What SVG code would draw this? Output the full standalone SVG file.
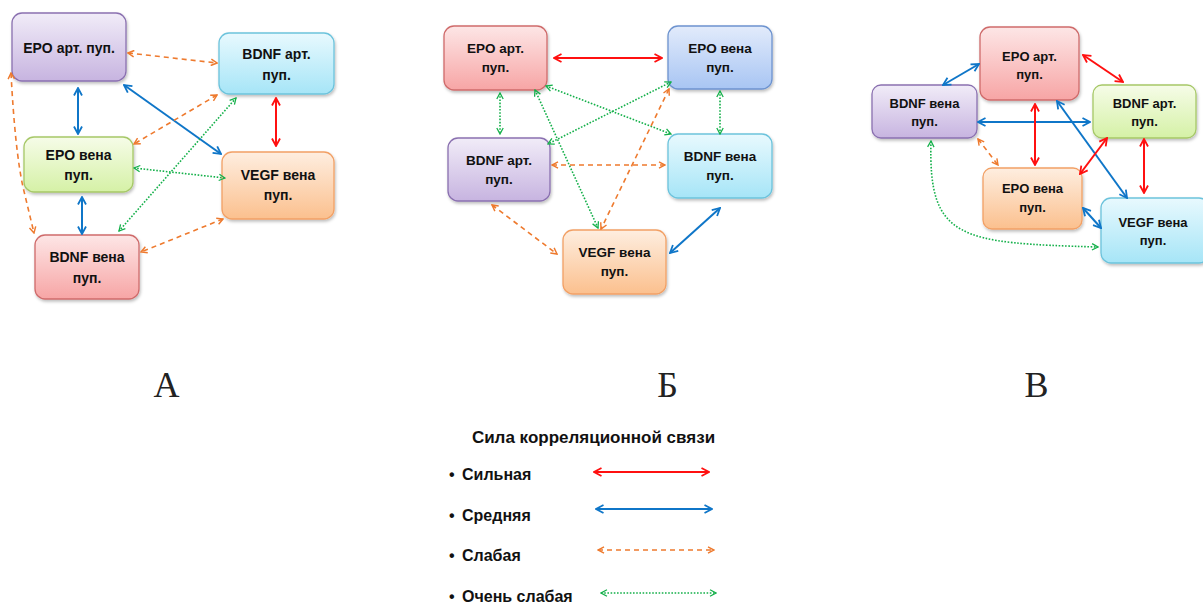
<svg xmlns="http://www.w3.org/2000/svg" width="1203" height="605" viewBox="0 0 1203 605">
<defs>
<style>
.t{font-family:"Liberation Sans",Arial,sans-serif;font-weight:bold;fill:#111;text-anchor:middle}
.a{font-size:14px}.b{font-size:13.5px}.c{font-size:13px}
.lg{font-family:"Liberation Sans",Arial,sans-serif;font-weight:bold;font-size:16px;fill:#111}
.ttl{font-size:17px}
.pl{font-family:"Liberation Serif","Times New Roman",serif;font-size:36px;fill:#222;text-anchor:middle}
.s{fill:none;stroke-width:2}
.red{stroke:#ff1010;marker-start:url(#mR);marker-end:url(#mR)}
.blue{stroke:#0f76c8;marker-start:url(#mB);marker-end:url(#mB)}
.or{stroke:#ee7a2e;stroke-width:1.6;stroke-dasharray:5 4;marker-start:url(#mO);marker-end:url(#mO)}
.gr{stroke:#14b04a;stroke-width:1.6;stroke-dasharray:1.6 1.6;marker-start:url(#mG);marker-end:url(#mG)}
.pu{fill:url(#gPu);stroke:#8a70b0}
.cy{fill:url(#gCy);stroke:#6cc3dc}
.gn{fill:url(#gGn);stroke:#a6c867}
.og{fill:url(#gOg);stroke:#f2a065}
.rd{fill:url(#gRd);stroke:#cf6b6b}
.bl{fill:url(#gBl);stroke:#6d93cf}
.bx{stroke-width:1.3;filter:url(#sh)}
</style>
<filter id="sh" x="-10%" y="-10%" width="125%" height="130%"><feDropShadow dx="1" dy="2" stdDeviation="1.5" flood-color="#000" flood-opacity="0.25"/></filter>
<linearGradient id="gPu" x1="0" y1="0" x2="0" y2="1"><stop offset="0" stop-color="#f1ecf8"/><stop offset="1" stop-color="#c7b4e0"/></linearGradient>
<linearGradient id="gCy" x1="0" y1="0" x2="0" y2="1"><stop offset="0" stop-color="#e8f9fe"/><stop offset="1" stop-color="#a6e5f7"/></linearGradient>
<linearGradient id="gGn" x1="0" y1="0" x2="0" y2="1"><stop offset="0" stop-color="#f6fce8"/><stop offset="1" stop-color="#d5f1a6"/></linearGradient>
<linearGradient id="gOg" x1="0" y1="0" x2="0" y2="1"><stop offset="0" stop-color="#feeee0"/><stop offset="1" stop-color="#fbc08e"/></linearGradient>
<linearGradient id="gRd" x1="0" y1="0" x2="0" y2="1"><stop offset="0" stop-color="#fde6e6"/><stop offset="1" stop-color="#f7a5a5"/></linearGradient>
<linearGradient id="gBl" x1="0" y1="0" x2="0" y2="1"><stop offset="0" stop-color="#e2ebfb"/><stop offset="1" stop-color="#a8c5f3"/></linearGradient>
<marker id="mR" viewBox="0 0 10 10" refX="9" refY="5" markerWidth="10" markerHeight="10" markerUnits="userSpaceOnUse" orient="auto-start-reverse"><path d="M1.5,1 L9,5 L1.5,9" fill="none" stroke="#ff1010" stroke-width="1.8"/></marker>
<marker id="mB" viewBox="0 0 10 10" refX="9" refY="5" markerWidth="10" markerHeight="10" markerUnits="userSpaceOnUse" orient="auto-start-reverse"><path d="M1.5,1 L9,5 L1.5,9" fill="none" stroke="#0f76c8" stroke-width="1.8"/></marker>
<marker id="mO" viewBox="0 0 10 10" refX="9" refY="5" markerWidth="8" markerHeight="8" markerUnits="userSpaceOnUse" orient="auto-start-reverse"><path d="M1.5,1 L9,5 L1.5,9" fill="none" stroke="#ee7a2e" stroke-width="1.8"/></marker>
<marker id="mG" viewBox="0 0 10 10" refX="9" refY="5" markerWidth="8" markerHeight="8" markerUnits="userSpaceOnUse" orient="auto-start-reverse"><path d="M1.5,1 L9,5 L1.5,9" fill="none" stroke="#14b04a" stroke-width="1.6"/></marker>
</defs>
<rect width="1203" height="605" fill="#fff"/>

<!-- Panel A nodes -->
<g id="A-epo-art"><rect class="bx pu" x="12" y="13" width="114" height="68" rx="10"/><text class="t a" x="69" y="53">EPO арт. пуп.</text></g>
<g id="A-bdnf-art"><rect class="bx cy" x="219" y="33" width="115" height="61" rx="10"/><text class="t a" x="276.5" y="59">BDNF арт.</text><text class="t a" x="276.5" y="80">пуп.</text></g>
<g id="A-epo-vena"><rect class="bx gn" x="24" y="137" width="109" height="55" rx="10"/><text class="t a" x="78.5" y="160">EPO вена</text><text class="t a" x="78.5" y="180">пуп.</text></g>
<g id="A-vegf-vena"><rect class="bx og" x="222" y="152" width="112" height="67" rx="10"/><text class="t a" x="278" y="180">VEGF вена</text><text class="t a" x="278" y="200">пуп.</text></g>
<g id="A-bdnf-vena"><rect class="bx rd" x="35" y="235" width="104" height="64" rx="10"/><text class="t a" x="87" y="262">BDNF вена</text><text class="t a" x="87" y="283">пуп.</text></g>

<!-- Panel Б nodes -->
<g id="B-epo-art"><rect class="bx rd" x="444" y="26" width="103" height="64" rx="10"/><text class="t b" x="495.5" y="53">EPO арт.</text><text class="t b" x="495.5" y="72">пуп.</text></g>
<g id="B-epo-vena"><rect class="bx bl" x="668" y="26" width="104" height="63" rx="10"/><text class="t b" x="720" y="53">EPO вена</text><text class="t b" x="720" y="72">пуп.</text></g>
<g id="B-bdnf-art"><rect class="bx pu" x="448" y="138" width="102" height="63" rx="10"/><text class="t b" x="499" y="165">BDNF арт.</text><text class="t b" x="499" y="184">пуп.</text></g>
<g id="B-bdnf-vena"><rect class="bx cy" x="668" y="134" width="104" height="64" rx="10"/><text class="t b" x="720" y="161">BDNF вена</text><text class="t b" x="720" y="180">пуп.</text></g>
<g id="B-vegf-vena"><rect class="bx og" x="563" y="230" width="103" height="64" rx="10"/><text class="t b" x="614.5" y="257">VEGF вена</text><text class="t b" x="614.5" y="276">пуп.</text></g>

<!-- Panel В nodes -->
<g id="C-epo-art"><rect class="bx rd" x="980" y="27" width="99" height="73" rx="10"/><text class="t c" x="1029.5" y="61">EPO арт.</text><text class="t c" x="1029.5" y="79">пуп.</text></g>
<g id="C-bdnf-vena"><rect class="bx pu" x="872" y="85" width="105" height="53" rx="9"/><text class="t c" x="924.5" y="108">BDNF вена</text><text class="t c" x="924.5" y="126">пуп.</text></g>
<g id="C-bdnf-art"><rect class="bx gn" x="1093" y="85" width="103" height="53" rx="9"/><text class="t c" x="1144.5" y="108">BDNF арт.</text><text class="t c" x="1144.5" y="126">пуп.</text></g>
<g id="C-epo-vena"><rect class="bx og" x="983" y="168" width="99" height="61" rx="9"/><text class="t c" x="1032.5" y="193">EPO вена</text><text class="t c" x="1032.5" y="212">пуп.</text></g>
<g id="C-vegf-vena"><rect class="bx cy" x="1101" y="198" width="108" height="65" rx="10"/><text class="t c" x="1153" y="227">VEGF вена</text><text class="t c" x="1153" y="245">пуп.</text></g>

<!-- Connectors -->
<g id="connectors" class="s">
<!-- A -->
<line class="s or" x1="128" y1="53" x2="217" y2="63"/>
<line class="s blue" x1="78" y1="88" x2="78" y2="134"/>
<line class="s blue" x1="124" y1="85" x2="221" y2="154"/>
<line class="s red" x1="276" y1="98" x2="276" y2="146"/>
<line class="s or" x1="217" y1="95" x2="134" y2="144"/>
<line class="s gr" x1="236" y1="98" x2="119" y2="231"/>
<line class="s gr" x1="134" y1="168" x2="225" y2="178"/>
<line class="s blue" x1="82" y1="197" x2="82" y2="234"/>
<line class="s or" x1="223" y1="219" x2="141" y2="252"/>
<path class="s or" d="M11,73 Q15,150 23,187 L34,233"/>
<!-- Б -->
<line class="s red" x1="554" y1="58" x2="662" y2="58"/>
<line class="s gr" x1="500" y1="93" x2="500" y2="134"/>
<line class="s gr" x1="720" y1="91" x2="720" y2="134"/>
<line class="s gr" x1="546" y1="86" x2="671" y2="134"/>
<line class="s gr" x1="671" y1="82" x2="548" y2="144"/>
<line class="s gr" x1="535" y1="90" x2="598" y2="228"/>
<line class="s or" x1="669" y1="89" x2="601" y2="229"/>
<line class="s or" x1="552" y1="165" x2="665" y2="165"/>
<line class="s or" x1="492" y1="205" x2="557" y2="254"/>
<line class="s blue" x1="720" y1="208" x2="670" y2="253"/>
<!-- В -->
<line class="s blue" x1="943" y1="85" x2="979" y2="64"/>
<line class="s red" x1="1083" y1="55" x2="1123" y2="82"/>
<line class="s blue" x1="978" y1="122" x2="1090" y2="122"/>
<line class="s red" x1="1035" y1="104" x2="1035" y2="165"/>
<line class="s blue" x1="1057" y1="101" x2="1127" y2="198"/>
<line class="s red" x1="1107" y1="138" x2="1080" y2="174"/>
<line class="s red" x1="1144" y1="139" x2="1144" y2="193"/>
<line class="s or" x1="978" y1="139" x2="998" y2="165"/>
<line class="s blue" x1="1083" y1="208" x2="1101" y2="228"/>
<path class="s gr" d="M931,141 C928,240 960,243 1098,247"/>
<!-- legend -->
<line class="s red" x1="594" y1="472" x2="709" y2="472"/>
<line class="s blue" x1="596" y1="509" x2="712" y2="509"/>
<line class="s or" x1="598" y1="550" x2="714" y2="550"/>
<line class="s gr" x1="601" y1="593" x2="716" y2="593"/>
</g>

<!-- Panel labels -->
<text class="pl" x="166.5" y="397">А</text>
<text class="pl" x="667.5" y="397">Б</text>
<text class="pl" x="1036.5" y="397">В</text>

<!-- Legend -->
<g id="legend">
<text class="lg ttl" x="593.5" y="443" text-anchor="middle">Сила корреляционной связи</text>
<text class="lg" x="449" y="480">•<tspan x="462">Сильная</tspan></text>
<text class="lg" x="449" y="521">•<tspan x="462">Средняя</tspan></text>
<text class="lg" x="449" y="561">•<tspan x="462">Слабая</tspan></text>
<text class="lg" x="449" y="602">•<tspan x="462">Очень слабая</tspan></text>
</g>
</svg>
